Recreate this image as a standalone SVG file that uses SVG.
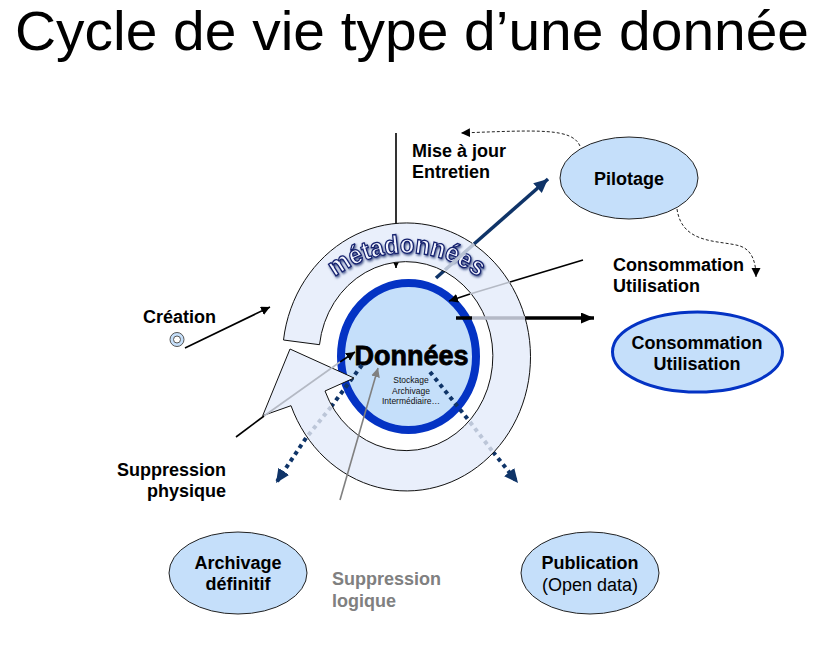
<svg xmlns="http://www.w3.org/2000/svg" width="834" height="649" viewBox="0 0 834 649">
<style>
text{font-family:"Liberation Sans",Arial,sans-serif}
.b{font-weight:700;font-size:18px;fill:#000}
.m{text-anchor:middle}
.node{fill:#c5dffa;stroke:#222;stroke-width:1}
.thin{stroke:#000;stroke-width:1.6;fill:none}
.gr{stroke:#b4b9c4;stroke-width:1.6;fill:none}
.dash{stroke:#222;stroke-width:1;stroke-dasharray:3 2;fill:none}
.dot{stroke:#0f3468;stroke-width:4;stroke-dasharray:4 4;fill:none}
.dotg{stroke:#bcc6d8;stroke-width:4;stroke-dasharray:4 4;fill:none}
</style>
<defs>
<marker id="ak" markerUnits="userSpaceOnUse" markerWidth="10" markerHeight="10" refX="9" refY="4.5" orient="auto"><path d="M0 0L9 4.5L0 9Z" fill="#000"/></marker>
<marker id="ag" markerUnits="userSpaceOnUse" markerWidth="10" markerHeight="10" refX="9" refY="4.5" orient="auto"><path d="M0 0L9 4.5L0 9Z" fill="#808080"/></marker>
<marker id="akb" markerUnits="userSpaceOnUse" markerWidth="14" markerHeight="12" refX="13" refY="5.500" orient="auto"><path d="M0 0L13 5.500L0 11Z" fill="#000"/></marker>
<marker id="an" markerUnits="userSpaceOnUse" markerWidth="16" markerHeight="14" refX="14" refY="6.500" orient="auto"><path d="M0 0L14 6.500L0 13Z" fill="#0f3468"/></marker>
<filter id="sh" x="-10%" y="-10%" width="120%" height="130%"><feDropShadow dx="1" dy="1.500" stdDeviation="1" flood-color="#1a2a6c" flood-opacity=".8"/></filter>
<path id="arc" d="M335 277A120 122 0 0 1 478 277"/>
</defs>

<g id="title"><text x="15" y="50" font-size="56" fill="#000" textLength="794" lengthAdjust="spacingAndGlyphs">Cycle de vie type d’une donnée</text></g>

<g id="donnees">
<ellipse cx="408.500" cy="356.500" rx="67.500" ry="73.500" fill="#c5dffa" stroke="#0433c4" stroke-width="8"/>
<text x="411.500" y="365" font-size="27" font-weight="700" class="m" fill="#000" stroke="#000" stroke-width=".8">Données</text>
<g font-size="8.500" class="m" fill="#111">
<text x="411" y="383">Stockage</text>
<text x="411" y="394">Archivage</text>
<text x="411" y="404">Intermédiaire…</text>
</g>
</g>

<g id="connecteurs-sous">
<path class="thin" d="M396 133V268" marker-end="url(#ak)"/>
<path d="M436 278L445 270" stroke="#0f3468" stroke-width="3.500"/>
<path d="M474 244L548 179" stroke="#0f3468" stroke-width="3.500" marker-end="url(#an)"/>
<path class="thin" d="M583 260L510 282"/>
<path class="thin" d="M470 294L449 301" marker-end="url(#ak)"/>
<path d="M456 318H472" stroke="#000" stroke-width="3.500"/>
<path d="M525 318H594" stroke="#000" stroke-width="3.500" marker-end="url(#akb)"/>
<path class="thin" d="M236 437L264 416"/>
<path class="thin" d="M340 362L355 352" marker-end="url(#ak)"/>
<path class="dot" d="M362 365L331 407"/>
<path class="dot" d="M306 438L276 483" marker-end="url(#an)"/>
<path class="dot" d="M430 372L470 422"/>
<path class="dot" d="M493 452L518 483" marker-end="url(#an)"/>
</g>

<g id="metadonnees">
<path d="M283.500 340A124 134 0 1 1 291 405.700L262.700 415.700L290 349L354 378L325 391A87 94.500 0 1 0 319.500 344.700Z" fill="#e9effb" stroke="#111" stroke-width="1"/>
<text font-size="26" font-weight="700" fill="#f4f6ff" stroke="#14206e" stroke-width="1.300" filter="url(#sh)" class="m"><textPath href="#arc" startOffset="50%" textLength="154" lengthAdjust="spacingAndGlyphs">métadonnées</textPath></text>
</g>

<g id="connecteurs-gris">
<path d="M445 270L474 244" stroke="#b9c3d4" stroke-width="3.500"/>
<path class="gr" d="M510 282L470 294"/>
<path d="M472 318H525" stroke="#b4b9c6" stroke-width="3.500"/>
<path class="gr" d="M264 416L340 362"/>
<path class="dotg" d="M331 407L306 438"/>
<path class="dotg" d="M470 422L493 452"/>
</g>
<g id="connecteurs">
<path class="thin" d="M185 348L270 307" marker-end="url(#ak)"/>
<path d="M340 500L378 368" stroke="#808080" stroke-width="1.600" fill="none" marker-end="url(#ag)"/>
<path class="dash" d="M580 146C572 128 540 130 461 133" marker-end="url(#ak)"/>
<path class="dash" d="M677 209C682 245 720 240 740 246C752 250 756 262 756 277" marker-end="url(#ak)"/>
</g>

<g id="creation-node"><circle cx="177" cy="339.500" r="7" fill="#c5dffa" stroke="#555" stroke-width="1"/><circle cx="177" cy="339.500" r="3.500" fill="#fff" stroke="#555" stroke-width="1"/></g>
<g id="creation"><text class="b" x="143" y="323">Création</text></g>
<g id="maj"><text class="b" x="412" y="157">Mise à jour</text><text class="b" x="412" y="178">Entretien</text></g>
<g id="conso-label"><text class="b" x="613" y="271">Consommation</text><text class="b" x="613" y="292">Utilisation</text></g>
<g id="supp-phys"><text class="b" x="226" y="476" text-anchor="end">Suppression</text><text class="b" x="226" y="497" text-anchor="end">physique</text></g>
<g id="supp-log"><text class="b" x="332" y="585" style="fill:#808080">Suppression</text><text class="b" x="332" y="607" style="fill:#808080">logique</text></g>

<g id="pilotage"><ellipse class="node" cx="629" cy="178" rx="69" ry="41"/><text class="b m" x="629" y="185">Pilotage</text></g>
<g id="consommation"><ellipse cx="697.500" cy="352" rx="85" ry="40" fill="#c5dffa" stroke="#0433c4" stroke-width="3"/><text class="b m" x="697" y="349">Consommation</text><text class="b m" x="697" y="370">Utilisation</text></g>
<g id="archivage"><ellipse class="node" cx="238" cy="573" rx="69" ry="41"/><text class="b m" x="238" y="569">Archivage</text><text class="b m" x="238" y="590">définitif</text></g>
<g id="publication"><ellipse class="node" cx="590" cy="573" rx="69" ry="41"/><text class="b m" x="590" y="569">Publication</text><text class="m" x="590" y="591" font-size="18">(Open data)</text></g>
</svg>
